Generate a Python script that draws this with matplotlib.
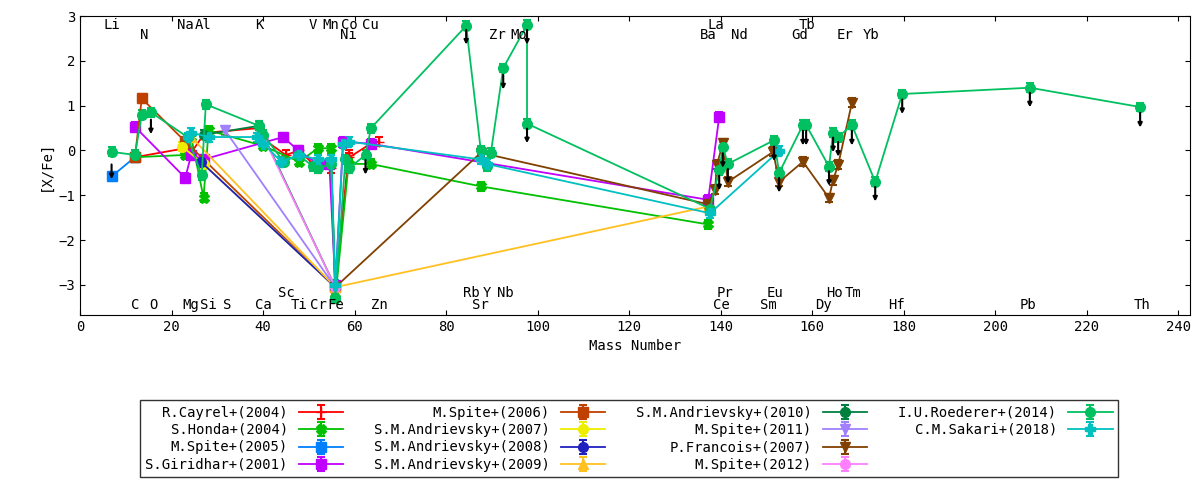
import matplotlib
matplotlib.use("Agg")
import matplotlib.pyplot as plt
from matplotlib.lines import Line2D

plt.rcParams['font.family'] = ['DejaVu Sans Mono', 'DejaVu Sans']
plt.rcParams['font.size'] = 10

# element label positions (mass number) and row
top1 = {'Li': 6.9, 'Na': 23.0, 'Al': 27.0, 'K': 39.1, 'V': 50.9, 'Mn': 54.9, 'Co': 58.9,
        'Cu': 63.5, 'La': 138.9, 'Tb': 158.9}
top2 = {'N': 14.0, 'Ni': 58.7, 'Zr': 91.2, 'Mo': 96.0, 'Ba': 137.3, 'Nd': 144.2,
        'Gd': 157.3, 'Er': 167.3, 'Yb': 173.0}
bot1 = {'Sc': 45.0, 'Rb': 85.5, 'Y': 88.9, 'Nb': 92.9, 'Pr': 140.9, 'Eu': 152.0,
        'Ho': 164.9, 'Tm': 168.9}
bot2 = {'C': 12.0, 'O': 16.0, 'Mg': 24.3, 'Si': 28.1, 'S': 32.1, 'Ca': 40.1, 'Ti': 47.9,
        'Cr': 52.0, 'Fe': 55.8, 'Zn': 65.4, 'Sr': 87.6, 'Ce': 140.1, 'Sm': 150.4,
        'Dy': 162.5, 'Hf': 178.5, 'Pb': 207.2, 'Th': 232.0}

# series data
cayrel_x = [12.0, 23.0, 24.3, 27.0, 28.1, 39.1, 40.1, 45.0, 47.9, 52.0, 54.9, 55.8, 58.7, 58.9, 63.5, 65.4]
cayrel_y = [-0.15, 0.05, -0.05, 0.35, 0.40, 0.50, 0.25, -0.10, 0.00, -0.40, -0.40, -3.05, -0.10, -0.15, 0.15, 0.20]
honda_x = [12.0, 23.0, 24.3, 27.0, 28.1, 40.1, 47.9, 52.0, 54.9, 55.8, 58.7, 63.5, 87.6, 137.3]
honda_y = [-0.15, -0.10, 0.30, -1.05, 0.45, 0.10, -0.25, 0.05, 0.05, -3.30, -0.30, -0.30, -0.80, -1.65]
spite05_x = [6.9, 12.0]
spite05_y = [-0.58, -0.15]
girid_x = [12.0, 23.0, 24.3, 27.0, 44.4, 47.7, 52.0, 54.5, 55.8, 57.5, 63.5, 137.3, 139.7]
girid_y = [0.53, -0.61, -0.10, -0.20, 0.30, 0.00, -0.30, -0.30, -3.00, 0.20, 0.15, -1.10, 0.75]
spite06_x = [12.0, 13.5, 23.0, 55.8]
spite06_y = [-0.15, 1.16, 0.20, -3.05]
andr07_x = [22.4, 27.0, 55.8]
andr07_y = [0.08, -0.30, -3.05]
andr08_x = [26.5, 55.8]
andr08_y = [-0.26, -3.05]
andr09_x = [24.3, 55.8, 137.3]
andr09_y = [0.30, -3.05, -1.25]
andr10_x = [27.0, 39.1, 55.8]
andr10_y = [0.35, 0.55, -3.05]
spite11_x = [31.7, 55.8]
spite11_y = [0.45, -3.05]
franc_x = [55.8, 87.6, 137.3, 138.8, 139.2, 140.5, 141.6, 151.5, 152.8, 158.0, 163.7, 164.6, 165.7, 168.7]
franc_y = [-3.05, -0.05, -1.20, -0.88, -0.32, 0.16, -0.70, -0.03, -0.70, -0.25, -1.06, -0.66, -0.32, 1.06]
spite12_x = [40.1, 55.8]
spite12_y = [0.30, -3.05]
roed_x = [6.9, 12.0, 13.5, 15.5, 23.5, 26.6, 27.5, 39.1, 40.1, 44.5, 47.7, 50.9, 52.0, 54.9, 55.8,
          58.0, 58.7, 62.4, 63.6, 84.4, 87.6, 88.9, 89.8, 92.5, 97.7, 97.7, 137.7, 139.7, 140.5,
          141.6, 151.7, 152.8, 158.0, 158.7, 163.7, 164.6, 165.7, 168.7, 173.8, 179.7, 207.6, 231.7]
roed_y = [-0.03, -0.10, 0.80, 0.85, 0.30, -0.55, 1.03, 0.55, 0.35, -0.25, -0.10, -0.35, -0.40, -0.30, -3.30,
          -0.20, -0.40, -0.10, 0.50, 2.78, 0.00, -0.35, -0.05, 1.84, 2.80, 0.60, -1.30, -0.44, 0.08,
          -0.30, 0.23, -0.50, 0.57, 0.57, -0.36, 0.40, 0.30, 0.57, -0.70, 1.26, 1.40, 0.97]
sakari_x = [23.5, 24.3, 28.1, 38.6, 40.1, 44.0, 47.9, 52.0, 54.9, 55.8, 57.5, 58.7, 87.6, 88.9, 137.7, 152.8]
sakari_y = [0.30, 0.40, 0.30, 0.30, 0.15, -0.25, -0.10, -0.20, -0.20, -3.00, 0.15, 0.20, -0.20, -0.30, -1.40, -0.01]

series = [
    ('R.Cayrel+(2004)', '#ff0000', '+', cayrel_x, cayrel_y),
    ('S.Honda+(2004)', '#00c000', 'X', honda_x, honda_y),
    ('M.Spite+(2005)', '#0080ff', 's', spite05_x, spite05_y),
    ('S.Giridhar+(2001)', '#c000ff', 's', girid_x, girid_y),
    ('M.Spite+(2006)', '#c04000', 's', spite06_x, spite06_y),
    ('S.M.Andrievsky+(2007)', '#eeee00', 'o', andr07_x, andr07_y),
    ('S.M.Andrievsky+(2008)', '#2020c0', 'o', andr08_x, andr08_y),
    ('S.M.Andrievsky+(2009)', '#ffc020', '^', andr09_x, andr09_y),
    ('S.M.Andrievsky+(2010)', '#008040', 'o', andr10_x, andr10_y),
    ('M.Spite+(2011)', '#a080ff', 'v', spite11_x, spite11_y),
    ('P.Francois+(2007)', '#804000', 'v', franc_x, franc_y),
    ('M.Spite+(2012)', '#ff80ff', 'o', spite12_x, spite12_y),
    ('I.U.Roederer+(2014)', '#00c060', 'o', roed_x, roed_y),
    ('C.M.Sakari+(2018)', '#00c0c0', 'P', sakari_x, sakari_y),
]

# upper limits (black arrows): x, y start
ul_x = [6.9, 15.5, 62.4, 84.4, 92.5, 97.7, 97.7, 139.7, 140.5, 141.6, 151.7, 152.8, 158.0,
        158.7, 163.7, 164.6, 165.7, 168.7, 173.8, 179.7, 207.6, 231.7]
ul_y = [-0.25, 0.75, -0.15, 2.75, 1.75, 2.75, 0.55, -0.5, 0.0, -0.35, 0.15, -0.55, 0.5,
        0.5, -0.4, 0.35, 0.25, 0.5, -0.75, 1.2, 1.35, 0.9]

fig = plt.figure(figsize=(12, 4.8), dpi=100)
ax = fig.add_axes([80/1200, 1-315/480, 1110/1200, 299/480])

for xs, ys in zip(ul_x, ul_y):
    ax.annotate('', xy=(xs, ys - 0.45), xytext=(xs, ys),
                arrowprops=dict(arrowstyle='-|>', color='black', lw=1.5, mutation_scale=6))

handles = []
for name, col, mk, xs, ys in series:
    h = ax.errorbar(xs, ys, yerr=[0.1] * len(xs), color=col, marker=mk, ms=7, lw=1.3,
                    capsize=3, capthick=1.5, elinewidth=1.5, label=name)
    handles.append(h)

# pad so the last column holds only two entries, as in gnuplot's key
blank = Line2D([], [], linestyle='none', marker='none')
handles_leg = handles + [blank, blank]
labels_leg = [s[0] for s in series] + ['', '']

for row, yv in ((top1, 2.8), (top2, 2.58), (bot1, -3.18), (bot2, -3.45)):
    for el, xm in row.items():
        ax.text(xm, yv, el, ha='center', va='center', fontsize=10)

ax.set_xlim(0, 242.6)
ax.set_ylim(-3.67, 3)
ax.set_xticks(range(0, 241, 20))
ax.set_yticks(range(-3, 4))
ax.tick_params(direction='in', top=True, right=True)
ax.set_xlabel('Mass Number')
ax.set_ylabel('[X/Fe]')

leg = fig.legend(handles=handles_leg, labels=labels_leg, loc='upper left',
                 bbox_to_anchor=(133/1200, 1-393/480),
                 ncol=4, markerfirst=False, frameon=True, fancybox=False, edgecolor='black',
                 handlelength=3.2, columnspacing=2.2, labelspacing=0.25, borderpad=0.4,
                 fontsize=10)
leg.get_frame().set_linewidth(1)

fig.savefig('out.png', dpi=100)
